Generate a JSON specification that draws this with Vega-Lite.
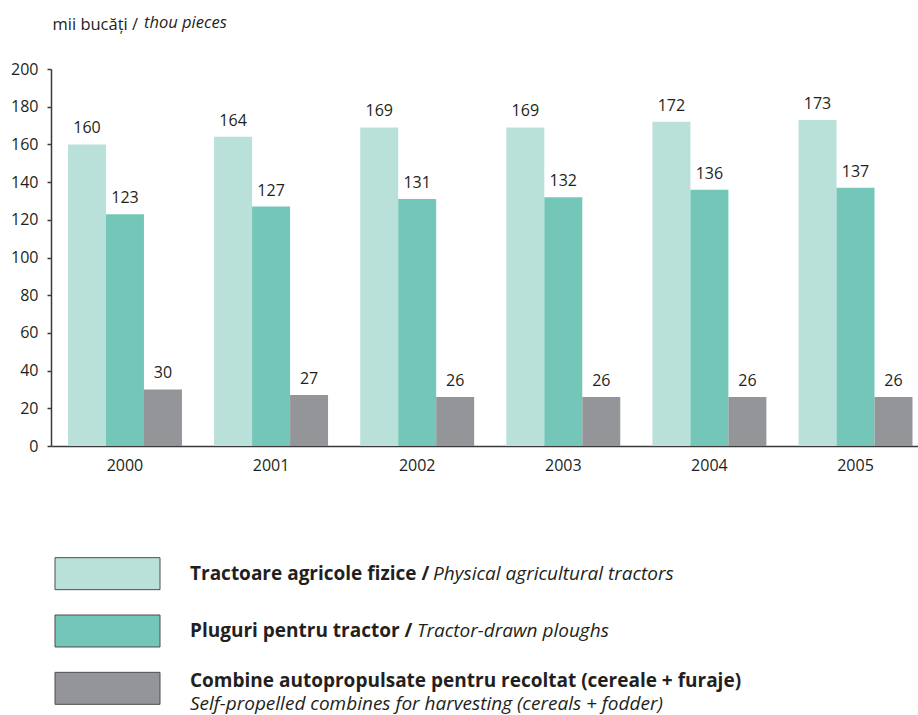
{
  "$schema": "https://vega.github.io/schema/vega-lite/v6.json",
  "padding": {"left": 10, "top": 14, "right": 0, "bottom": 0},
  "background": "white",
  "config": {
    "font": "Open Sans",
    "view": {"stroke": null},
    "text": {"color": "#231f20"}
  },
  "bounds": "flush",
  "spacing": 99,
  "datasets": {
    "bars": [
      {"year": "2000", "series": "Tractoare agricole fizice", "value": 160},
      {"year": "2000", "series": "Pluguri pentru tractor", "value": 123},
      {"year": "2000", "series": "Combine autopropulsate", "value": 30},
      {"year": "2001", "series": "Tractoare agricole fizice", "value": 164},
      {"year": "2001", "series": "Pluguri pentru tractor", "value": 127},
      {"year": "2001", "series": "Combine autopropulsate", "value": 27},
      {"year": "2002", "series": "Tractoare agricole fizice", "value": 169},
      {"year": "2002", "series": "Pluguri pentru tractor", "value": 131},
      {"year": "2002", "series": "Combine autopropulsate", "value": 26},
      {"year": "2003", "series": "Tractoare agricole fizice", "value": 169},
      {"year": "2003", "series": "Pluguri pentru tractor", "value": 132},
      {"year": "2003", "series": "Combine autopropulsate", "value": 26},
      {"year": "2004", "series": "Tractoare agricole fizice", "value": 172},
      {"year": "2004", "series": "Pluguri pentru tractor", "value": 136},
      {"year": "2004", "series": "Combine autopropulsate", "value": 26},
      {"year": "2005", "series": "Tractoare agricole fizice", "value": 173},
      {"year": "2005", "series": "Pluguri pentru tractor", "value": 137},
      {"year": "2005", "series": "Combine autopropulsate", "value": 26}
    ],
    "legend": [
      {"series": "Tractoare agricole fizice", "ro": "Tractoare agricole fizice /", "en": "Physical agricultural tractors"},
      {"series": "Pluguri pentru tractor", "ro": "Pluguri pentru tractor /", "en": "Tractor-drawn ploughs"},
      {"series": "Combine autopropulsate", "ro": "Combine autopropulsate pentru recoltat (cereale + furaje)", "en": "Self-propelled combines for harvesting (cereals + fodder)"}
    ]
  },
  "vconcat": [
    {
      "width": 867,
      "height": 377,
      "data": {"name": "bars"},
      "title": {"text": "thou pieces", "anchor": "start", "frame": "group", "fontStyle": "italic", "fontWeight": "normal", "fontSize": 16.5, "color": "#231f20", "dx": 93, "dy": 15, "offset": 0},
      "encoding": {
        "x": {
          "field": "year", "type": "nominal",
          "scale": {"paddingInner": 0.22, "paddingOuter": 0.077, "align": 0.755},
          "axis": {"title": null, "labelAngle": 0, "ticks": false, "labelFontSize": 16, "labelColor": "#231f20", "labelPadding": 11, "domainColor": "#3a3a3a", "domainWidth": 1.5}
        },
        "xOffset": {
          "field": "series", "type": "nominal",
          "sort": ["Tractoare agricole fizice", "Pluguri pentru tractor", "Combine autopropulsate"],
          "scale": {"paddingInner": 0, "paddingOuter": 0}
        },
        "y": {
          "field": "value", "type": "quantitative",
          "scale": {"domain": [0, 200], "nice": false},
          "axis": {
            "values": [0, 20, 40, 60, 80, 100, 120, 140, 160, 180, 200],
            "grid": false, "tickSize": 4, "tickColor": "#3a3a3a", "tickWidth": 1.5,
            "domainColor": "#3a3a3a", "domainWidth": 1.5,
            "labelFontSize": 16, "labelColor": "#231f20", "labelPadding": 9,
            "title": "mii bucăți /", "titleAngle": 0, "titleAlign": "left", "titleBaseline": "alphabetic",
            "titleX": 1, "titleY": -40, "titleFontSize": 16.5, "titleFontWeight": "normal", "titleColor": "#231f20"
          }
        }
      },
      "layer": [
        {
          "mark": {"type": "bar"},
          "encoding": {
            "color": {
              "field": "series", "type": "nominal",
              "scale": {"domain": ["Tractoare agricole fizice", "Pluguri pentru tractor", "Combine autopropulsate"], "range": ["#b9e1d9", "#74c6b8", "#939598"]},
              "legend": null
            }
          }
        },
        {
          "mark": {"type": "text", "baseline": "alphabetic", "dy": -11, "fontSize": 16, "color": "#231f20"},
          "encoding": {"text": {"field": "value", "type": "quantitative"}}
        }
      ]
    },
    {
      "width": 867,
      "height": 172,
      "data": {"name": "legend"},
      "encoding": {
        "y": {
          "field": "series", "type": "nominal",
          "sort": ["Tractoare agricole fizice", "Pluguri pentru tractor", "Combine autopropulsate"],
          "axis": null,
          "scale": {"paddingInner": 0.442, "paddingOuter": 0.221}
        }
      },
      "layer": [
        {
          "mark": {"type": "bar", "stroke": "#4d4d4f", "strokeWidth": 1},
          "encoding": {
            "x": {"datum": 4, "type": "quantitative", "scale": {"domain": [0, 867], "nice": false, "zero": false}, "axis": null},
            "x2": {"datum": 109},
            "color": {
              "field": "series", "type": "nominal",
              "scale": {"domain": ["Tractoare agricole fizice", "Pluguri pentru tractor", "Combine autopropulsate"], "range": ["#b9e1d9", "#74c6b8", "#939598"]},
              "legend": null
            }
          }
        },
        {
          "transform": [{"filter": "datum.series !== 'Combine autopropulsate'"}],
          "mark": {"type": "text", "align": "left", "baseline": "middle", "fontWeight": "bold", "fontSize": 19, "color": "#231f20"},
          "encoding": {"x": {"datum": 139, "type": "quantitative"}, "text": {"field": "ro"}}
        },
        {
          "transform": [{"filter": "datum.series === 'Combine autopropulsate'"}],
          "mark": {"type": "text", "align": "left", "baseline": "middle", "fontWeight": "bold", "fontSize": 19, "dy": -7, "color": "#231f20"},
          "encoding": {"x": {"datum": 139, "type": "quantitative"}, "text": {"field": "ro"}}
        },
        {
          "transform": [{"filter": "datum.series === 'Tractoare agricole fizice'"}],
          "mark": {"type": "text", "align": "left", "baseline": "middle", "fontStyle": "italic", "fontSize": 19, "color": "#231f20"},
          "encoding": {"x": {"datum": 382, "type": "quantitative"}, "text": {"field": "en"}}
        },
        {
          "transform": [{"filter": "datum.series === 'Pluguri pentru tractor'"}],
          "mark": {"type": "text", "align": "left", "baseline": "middle", "fontStyle": "italic", "fontSize": 19, "color": "#231f20"},
          "encoding": {"x": {"datum": 366, "type": "quantitative"}, "text": {"field": "en"}}
        },
        {
          "transform": [{"filter": "datum.series === 'Combine autopropulsate'"}],
          "mark": {"type": "text", "align": "left", "baseline": "middle", "fontStyle": "italic", "fontSize": 19, "dy": 16, "color": "#231f20"},
          "encoding": {"x": {"datum": 139, "type": "quantitative"}, "text": {"field": "en"}}
        }
      ]
    }
  ]
}
